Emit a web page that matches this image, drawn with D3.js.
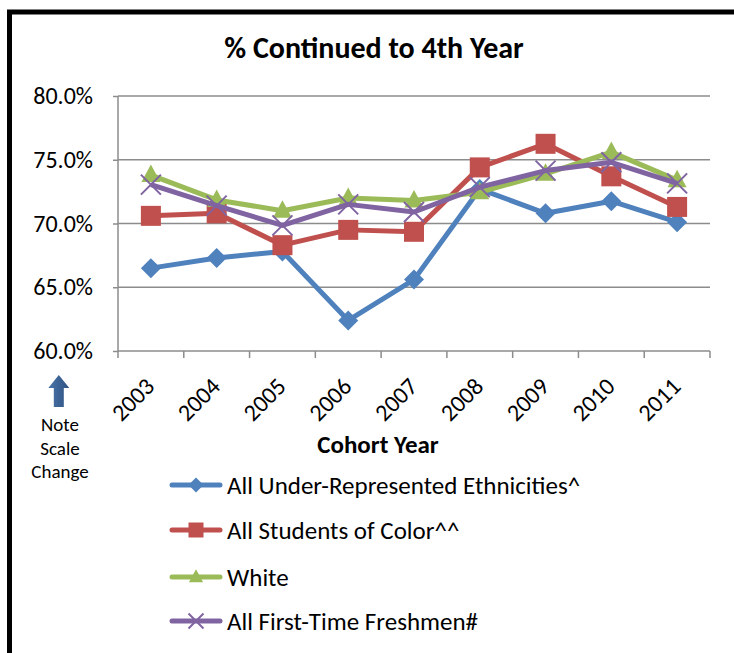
<!DOCTYPE html>
<html><head><meta charset="utf-8">
<script src="https://cdn.jsdelivr.net/npm/d3@7"></script>
<style>body{margin:0;background:#fff}svg{display:block}</style>
</head><body>
<script>
const years = ["2003","2004","2005","2006","2007","2008","2009","2010","2011"];
const ureValues = [66.5,67.3,67.8,62.4,65.6,72.7,70.8,71.75,70.1];
const socValues = [70.6,70.8,68.3,69.5,69.35,74.4,76.25,73.7,71.3];
const whiteValues = [73.8,71.85,71.0,72.0,71.8,72.45,73.9,75.6,73.4];
const ftfValues = [73.05,71.4,69.85,71.5,70.9,72.85,74.15,74.8,73.15];
const seriesNames = ["All Under-Represented Ethnicities^","All Students of Color^^","White","All First-Time Freshmen#"];
const seriesColors = ["#4f81bd","#c0504d","#9bbb59","#8064a2"];
const seriesMarkers = ["diamond","square","triangle","x"];
const yTicks = [60,65,70,75,80];
const noteLines = ["Note","Scale","Change"];

(function(){
const W=734,H=653;
const svg=d3.select("body").append("svg").attr("width",W).attr("height",H);
const font="Carlito, Calibri, 'Open Sans', sans-serif";

// outer border (only top and left visible)
svg.append("rect").attr("x",9.5).attr("y",12).attr("width",W+20).attr("height",H+20)
  .attr("fill","none").attr("stroke","#000").attr("stroke-width",5);

const pLeft=118,pRight=710,pTop=96,pBottom=351;
const x=d3.scaleBand().domain(years).range([pLeft,pRight]);
const y=d3.scaleLinear().domain([60,80]).range([pBottom,pTop]);

svg.append("text").attr("x",374).attr("y",58).attr("text-anchor","middle")
  .attr("font-family",font).attr("font-weight","bold").attr("font-size",30).text("% Continued to 4th Year");

// gridlines
svg.append("g").selectAll("line").data(yTicks.filter(d=>d>60)).join("line")
  .attr("x1",pLeft).attr("x2",pRight).attr("y1",d=>y(d)).attr("y2",d=>y(d))
  .attr("stroke","#8c8c8c").attr("stroke-width",1.5);

// y axis
const ya=svg.append("g").attr("transform",`translate(${pLeft},0)`)
  .call(d3.axisLeft(y).tickValues(yTicks).tickSize(5).tickPadding(20).tickFormat(d=>d.toFixed(1)+"%"));
ya.select(".domain").attr("stroke","#8c8c8c").attr("stroke-width",1.5).attr("d",`M0,${pTop}V${pBottom}`);
ya.selectAll(".tick line").attr("stroke","#8c8c8c").attr("stroke-width",1.5);
ya.selectAll("text").attr("font-family",font).attr("font-size",24).attr("fill","#000");

// x axis
const xa=svg.append("g").attr("transform",`translate(0,${pBottom})`)
  .call(d3.axisBottom(x).tickSize(0).tickFormat(d=>d));
xa.select(".domain").attr("stroke","#8c8c8c").attr("stroke-width",1.5).attr("d",`M${pLeft},0H${pRight}`);
xa.selectAll(".tick text").attr("font-family",font).attr("font-size",24).attr("fill","#000")
  .attr("text-anchor","end").attr("y",0).attr("dy",0).attr("dx",0)
  .attr("transform","translate(5,37) rotate(-45)");
const bounds=years.map(d=>x(d)).concat([pRight]);
svg.append("g").selectAll("line").data(bounds).join("line")
  .attr("x1",d=>d).attr("x2",d=>d).attr("y1",pBottom).attr("y2",pBottom+7)
  .attr("stroke","#8c8c8c").attr("stroke-width",1.5);

svg.append("text").attr("x",378).attr("y",453).attr("text-anchor","middle")
  .attr("font-family",font).attr("font-weight","bold").attr("font-size",25).text("Cohort Year");

// note arrow
const ag=svg.append("defs").append("linearGradient").attr("id","ag").attr("x1","0").attr("x2","1");
ag.append("stop").attr("offset","0").attr("stop-color","#4a74a8");
ag.append("stop").attr("offset","1").attr("stop-color","#2f5283");
svg.append("path").attr("d","M58.8,375 L69.3,388 L63.8,388 L63.8,407 L53.8,407 L53.8,388 L48.3,388 Z").attr("fill","url(#ag)");
const noteY=[431,455,478];
noteLines.forEach((t,i)=>{
  svg.append("text").attr("x",60).attr("y",noteY[i]).attr("text-anchor","middle")
    .attr("font-family",font).attr("font-size",19).text(t);
});

function marker(g,type,color,s){
  if(type==="diamond") g.append("path").attr("d",`M0,${-s}L${s},0L0,${s}L${-s},0Z`).attr("fill",color);
  else if(type==="square") g.append("rect").attr("x",-s).attr("y",-s).attr("width",s*2).attr("height",s*2).attr("fill",color);
  else if(type==="triangle") g.append("path").attr("d",`M0,${-s*1.05}L${s*0.95},${s*0.7}L${-s*0.95},${s*0.7}Z`).attr("fill",color);
  else g.append("path").attr("d",`M${-s},${-s}L${s},${s}M${-s},${s}L${s},${-s}`).attr("stroke",color).attr("stroke-width",2);
}

const allSeries=[ureValues,socValues,whiteValues,ftfValues];
const line=d3.line().x((d,i)=>x(years[i])+x.bandwidth()/2).y(d=>y(d));
allSeries.forEach((vals,si)=>{
  const g=svg.append("g");
  g.append("path").datum(vals).attr("d",line).attr("fill","none")
    .attr("stroke",seriesColors[si]).attr("stroke-width",5).attr("stroke-linejoin","round");
  vals.forEach((v,i)=>{
    const mg=g.append("g").attr("transform",`translate(${x(years[i])+x.bandwidth()/2},${y(v)})`);
    marker(mg,seriesMarkers[si],seriesColors[si],10);
  });
});

// legend
const legY=[485,530,577,621];
seriesNames.forEach((n,i)=>{
  const g=svg.append("g").attr("transform",`translate(0,${legY[i]})`);
  g.append("line").attr("x1",172).attr("x2",220).attr("y1",0).attr("y2",0)
    .attr("stroke",seriesColors[i]).attr("stroke-width",5).attr("stroke-linecap","round");
  const mg=g.append("g").attr("transform","translate(196,0)");
  marker(mg,seriesMarkers[i],seriesColors[i],7.5);
  g.append("text").attr("x",227).attr("y",8.5).attr("font-family",font).attr("font-size",25).text(n);
});
})();
</script>
</body></html>
